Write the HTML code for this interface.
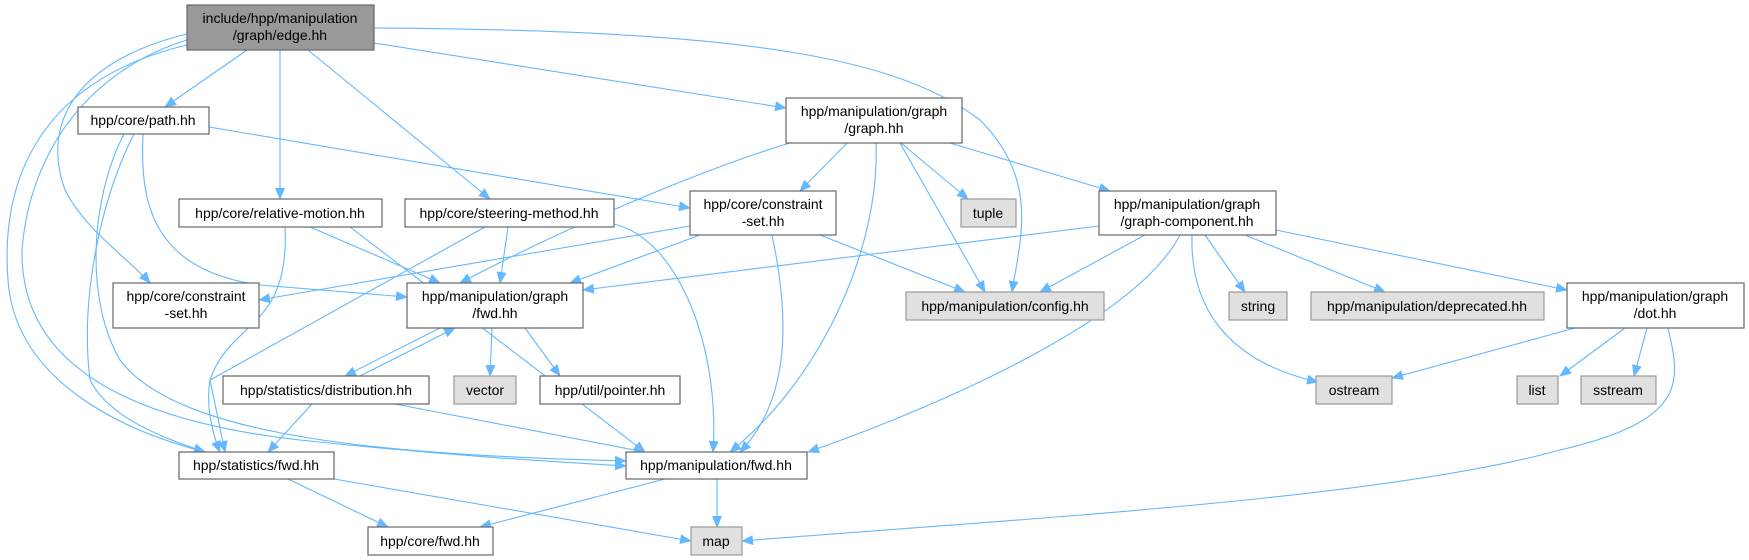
<!DOCTYPE html>
<html><head><meta charset="utf-8"><style>
html,body{margin:0;padding:0;background:#fff;}
svg{display:block;}
text{font-family:"Liberation Sans",sans-serif;font-size:14px;fill:#000;}
</style></head><body>
<svg width="1749" height="560" viewBox="0 0 1749 560" xmlns="http://www.w3.org/2000/svg">
<defs><marker id="a" markerWidth="12" markerHeight="10" refX="11" refY="5" orient="auto" markerUnits="userSpaceOnUse"><path d="M0,0 L12,5 L0,10 z" fill="#63b8ff"/></marker></defs>
<g fill="none" stroke="#63b8ff" stroke-width="1.1" marker-end="url(#a)">
<path d="M247,50 L165,107"/>
<path d="M280,50 L280,199"/>
<path d="M308,50 L490,199"/>
<path d="M374,43 L786,108"/>
<path d="M374,28 C760,30 900,60 980,120 C1040,180 1020,240 1012,292"/>
<path d="M187,34 C80,60 40,120 65,190 C85,230 130,260 150,283"/>
<path d="M187,45 C40,80 0,180 8,280 C15,380 120,430 205,452"/>
<path d="M187,40 C90,70 30,150 22,250 C20,360 120,420 300,440 C450,456 560,462 626,466"/>
<path d="M209,127 L690,208"/>
<path d="M143,134 C140,200 150,270 260,285 L407,297"/>
<path d="M134,134 C100,200 80,300 90,380 C110,420 170,440 205,452"/>
<path d="M124,134 C90,200 85,300 120,360 C180,440 400,455 626,461"/>
<path d="M790,143 C700,170 560,230 460,283"/>
<path d="M847,143 L800,191"/>
<path d="M876,143 C880,250 820,380 730,452"/>
<path d="M900,143 L985,292"/>
<path d="M901,143 L968,199"/>
<path d="M950,143 L1110,191"/>
<path d="M310,227 L440,283"/>
<path d="M350,227 L645,452"/>
<path d="M285,227 C290,330 230,320 210,380 C205,410 215,440 220,452"/>
<path d="M508,227 L500,283"/>
<path d="M485,227 L210,380 L225,452"/>
<path d="M614,224 C680,240 720,350 713,452"/>
<path d="M690,226 L259,300"/>
<path d="M700,235 L570,283"/>
<path d="M772,235 C790,320 790,400 740,452"/>
<path d="M820,235 L965,292"/>
<path d="M1099,226 L583,290"/>
<path d="M1145,235 L1040,292"/>
<path d="M1180,235 C1130,330 900,420 808,452"/>
<path d="M1192,235 C1190,300 1220,360 1318,382"/>
<path d="M1205,235 L1245,292"/>
<path d="M1245,235 L1385,292"/>
<path d="M1276,230 L1567,290"/>
<path d="M440,328 L345,376"/>
<path d="M360,376 L455,328"/>
<path d="M492,328 L490,376"/>
<path d="M525,328 L560,376"/>
<path d="M312,404 L268,452"/>
<path d="M395,404 L645,452"/>
<path d="M288,479 L388,527"/>
<path d="M334,479 L691,541"/>
<path d="M665,479 L480,527"/>
<path d="M717,479 L717,527"/>
<path d="M1575,328 L1392,378"/>
<path d="M1625,328 L1560,376"/>
<path d="M1647,328 L1634,376"/>
<path d="M1668,328 C1680,380 1690,420 1560,450 C1380,500 1000,520 742,541"/>
</g>
<g stroke-width="1.2">
<rect x="187" y="5" width="187" height="45" fill="#999" stroke="#666"/>
<rect x="78" y="107" width="131" height="27" fill="#fff" stroke="#666"/>
<rect x="786" y="98" width="176" height="45" fill="#fff" stroke="#666"/>
<rect x="179" y="199" width="203" height="28" fill="#fff" stroke="#666"/>
<rect x="405" y="199" width="209" height="28" fill="#fff" stroke="#666"/>
<rect x="690" y="191" width="146" height="44" fill="#fff" stroke="#666"/>
<rect x="961" y="199" width="55" height="28" fill="#e0e0e0" stroke="#999"/>
<rect x="1099" y="191" width="177" height="44" fill="#fff" stroke="#666"/>
<rect x="113" y="283" width="146" height="45" fill="#fff" stroke="#666"/>
<rect x="407" y="283" width="176" height="45" fill="#fff" stroke="#666"/>
<rect x="906" y="292" width="198" height="28" fill="#e0e0e0" stroke="#999"/>
<rect x="1229" y="292" width="58" height="28" fill="#e0e0e0" stroke="#999"/>
<rect x="1311" y="292" width="233" height="28" fill="#e0e0e0" stroke="#999"/>
<rect x="1567" y="283" width="177" height="45" fill="#fff" stroke="#666"/>
<rect x="223" y="376" width="206" height="28" fill="#fff" stroke="#666"/>
<rect x="454" y="376" width="62" height="28" fill="#e0e0e0" stroke="#999"/>
<rect x="540" y="376" width="140" height="28" fill="#fff" stroke="#666"/>
<rect x="1316" y="376" width="76" height="28" fill="#e0e0e0" stroke="#999"/>
<rect x="1517" y="376" width="41" height="28" fill="#e0e0e0" stroke="#999"/>
<rect x="1581" y="376" width="75" height="28" fill="#e0e0e0" stroke="#999"/>
<rect x="179" y="452" width="155" height="27" fill="#fff" stroke="#666"/>
<rect x="626" y="452" width="181" height="27" fill="#fff" stroke="#666"/>
<rect x="368" y="527" width="125" height="28" fill="#fff" stroke="#666"/>
<rect x="691" y="527" width="51" height="28" fill="#e0e0e0" stroke="#999"/>
</g>
<g text-anchor="middle">
<text x="280" y="23">include/hpp/manipulation</text><text x="280" y="40">/graph/edge.hh</text>
<text x="143" y="125">hpp/core/path.hh</text>
<text x="874" y="116">hpp/manipulation/graph</text><text x="874" y="133">/graph.hh</text>
<text x="280" y="218">hpp/core/relative-motion.hh</text>
<text x="509" y="218">hpp/core/steering-method.hh</text>
<text x="763" y="209">hpp/core/constraint</text><text x="763" y="226">-set.hh</text>
<text x="988" y="218">tuple</text>
<text x="1187" y="209">hpp/manipulation/graph</text><text x="1187" y="226">/graph-component.hh</text>
<text x="186" y="301">hpp/core/constraint</text><text x="186" y="318">-set.hh</text>
<text x="495" y="301">hpp/manipulation/graph</text><text x="495" y="318">/fwd.hh</text>
<text x="1005" y="311">hpp/manipulation/config.hh</text>
<text x="1258" y="311">string</text>
<text x="1427" y="311">hpp/manipulation/deprecated.hh</text>
<text x="1655" y="301">hpp/manipulation/graph</text><text x="1655" y="318">/dot.hh</text>
<text x="326" y="395">hpp/statistics/distribution.hh</text>
<text x="485" y="395">vector</text>
<text x="610" y="395">hpp/util/pointer.hh</text>
<text x="1354" y="395">ostream</text>
<text x="1537" y="395">list</text>
<text x="1618" y="395">sstream</text>
<text x="256" y="470">hpp/statistics/fwd.hh</text>
<text x="716" y="470">hpp/manipulation/fwd.hh</text>
<text x="430" y="546">hpp/core/fwd.hh</text>
<text x="716" y="546">map</text>
</g>
</svg>
</body></html>
